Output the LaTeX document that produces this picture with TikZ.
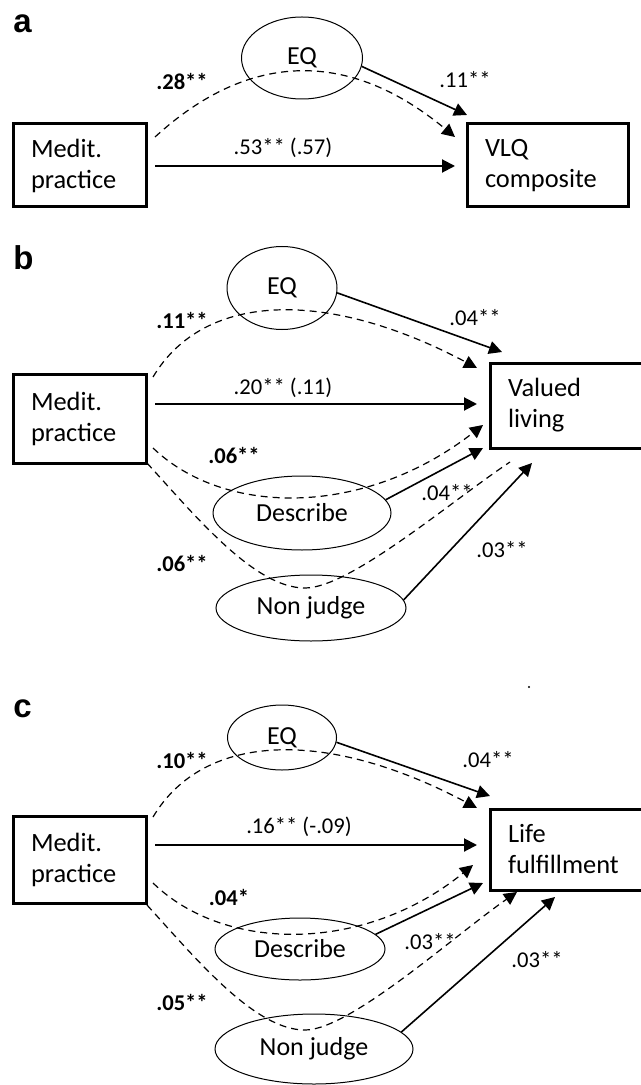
\documentclass[tikz,border=0pt]{standalone}
\usepackage{fontspec}
\setmainfont{Carlito}
\newfontfamily\panelfont{Liberation Sans}
\usetikzlibrary{shapes.geometric,arrows.meta}

\begin{document}
\begin{tikzpicture}[x=0.5pt, y=-0.5pt, >={Triangle[length=6.5pt,width=6.5pt]},
    box/.style={draw, line width=1.5pt, align=left, inner xsep=9pt, inner ysep=0pt,
        font=\fontsize{13.2}{15.5}\selectfont},
    var/.style={draw, ellipse, line width=0.5pt, inner sep=0pt,
        font=\fontsize{13}{15}\selectfont},
    coef/.style={inner sep=0pt, font=\fontsize{11.3}{13}\selectfont},
    bcoef/.style={inner sep=0pt, font=\fontsize{11.3}{13}\selectfont\bfseries},
    effect/.style={->, line width=0.8pt},
    mediated/.style={->, line width=0.6pt, dash pattern=on 3.5pt off 2.5pt},
    panel/.style={anchor=base west, inner sep=0pt, font=\panelfont\bfseries\fontsize{16.5}{19}\selectfont}]
    \useasboundingbox (0,0) rectangle (641,1085);

    % ---------------- Panel a ----------------
    \node[panel] (tagA) at (13,33) {a};
    \node[box, text width=48.5pt, minimum height=41.5pt] (medA) at (79.5,165.5) {Medit.\\practice};
    \node[box, text width=62.5pt, minimum height=41.5pt] (vlq) at (547.5,165.5) {VLQ\\composite};
    \node[var, minimum width=60.5pt, minimum height=41pt] (eqA) at (302,58) {EQ};

    % arrow ends near the outcome box
    \coordinate (sA1) at (155,137);
    \coordinate (tA1) at (455,137);
    \coordinate (sA2) at (155,166);
    \coordinate (tA2) at (455,166);
    \coordinate (tA3) at (467,115);

    \draw[mediated] (sA1) .. controls (250,50) and (350,50) .. (tA1);
    \draw[effect, line width=1pt] (sA2) -- (tA2);
    \draw[effect] (eqA.-8) -- (tA3);

    \node[bcoef] (cA1) at (182,82) {.28**};
    \node[coef] (cA2) at (465,80) {.11**};
    \node[coef] (cA3) at (283,148) {.53** (.57)};

    % ---------------- Panel b ----------------
    \node[panel] (tagB) at (13,270) {b};
    \node[box, text width=48.5pt, minimum height=44.5pt] (medB) at (79.5,418.5) {Medit.\\practice};
    \node[box, text width=62pt, minimum height=42.5pt] (val) at (570,405.5) {Valued\\living};
    \node[var, minimum width=55pt, minimum height=41.5pt] (eqB) at (282,288) {EQ};
    \node[var, minimum width=89pt, minimum height=37pt] (descB) at (302,513) {Describe};
    \node[var, minimum width=95pt, minimum height=33pt] (njB) at (311,608) {Non judge};

    \coordinate (sB1) at (153,377);
    \coordinate (tB1) at (477,368);
    \coordinate (sB2) at (155,404);
    \coordinate (tB2) at (477,404);
    \coordinate (tB3) at (502,352);
    \coordinate (sB4) at (153,448);
    \coordinate (tB4) at (483,425);
    \coordinate (tB5) at (483,448);
    \coordinate (sB6) at (147,463);
    \coordinate (tB6) at (510,462);
    \coordinate (tB7) at (532,463);

    \draw[mediated] (sB1) .. controls (205,290) and (330,290) .. (tB1);
    \draw[effect, line width=1pt] (sB2) -- (tB2);
    \draw[effect] (eqB.-5) -- (tB3);
    \draw[mediated] (sB4) .. controls (225,517) and (365,517) .. (tB4);
    \draw[effect] (descB.9) -- (tB5);
    \draw[mediated, -] (sB6) .. controls (197,518) and (255,588) .. (305,588)
        .. controls (350,588) and (450,502) .. (tB6);
    \draw[effect] (njB.5) -- (tB7);

    \node[bcoef] (cB1) at (182,320) {.11**};
    \node[coef] (cB2) at (475,318) {.04**};
    \node[coef] (cB3) at (283,388) {.20** (.11)};
    \node[bcoef] (cB4) at (234,455) {.06**};
    \node[coef] (cB5) at (447,493) {.04**};
    \node[bcoef] (cB6) at (182,563) {.06**};
    \node[coef] (cB7) at (502,550) {.03**};

    % ---------------- Panel c ----------------
    \node[panel] (tagC) at (13,717) {c};
    \node[box, text width=48.5pt, minimum height=43.5pt] (medC) at (79.5,859.5) {Medit.\\practice};
    \node[box, text width=62pt, minimum height=40.5pt] (life) at (570,849.5) {Life\\fulfillment};
    \node[var, minimum width=54.5pt, minimum height=32.5pt] (eqC) at (282,737.5) {EQ};
    \node[var, minimum width=85pt, minimum height=31pt] (descC) at (300,949) {Describe};
    \node[var, minimum width=99pt, minimum height=35pt] (njC) at (314,1049) {Non judge};

    \coordinate (sC1) at (153,817);
    \coordinate (tC1) at (477,808);
    \coordinate (sC2) at (155,845);
    \coordinate (tC2) at (477,845);
    \coordinate (tC3) at (490,796);
    \coordinate (sC4) at (153,883);
    \coordinate (tC4) at (473,865);
    \coordinate (tC5) at (483,883);
    \coordinate (sC6) at (147,905);
    \coordinate (tC6) at (517,892);
    \coordinate (tC7) at (555,897);

    \draw[mediated] (sC1) .. controls (205,730) and (330,730) .. (tC1);
    \draw[effect, line width=1pt] (sC2) -- (tC2);
    \draw[effect] (eqC.-5) -- (tC3);
    \draw[mediated] (sC4) .. controls (225,953) and (365,953) .. (tC4);
    \draw[effect] (descC.11) -- (tC5);
    \draw[mediated] (sC6) .. controls (197,960) and (255,1030) .. (305,1030)
        .. controls (350,1030) and (455,935) .. (tC6);
    \draw[effect] (njC.11) -- (tC7);

    \node[bcoef] (cC1) at (182,760) {.10**};
    \node[coef] (cC2) at (488,760) {.04**};
    \node[coef] (cC3) at (299,827) {.16** (-.09)};
    \node[bcoef] (cC4) at (229,897) {.04*};
    \node[coef] (cC5) at (430,942) {.03**};
    \node[bcoef] (cC6) at (182,1002) {.05**};
    \node[coef] (cC7) at (537,960) {.03**};

    \fill (529,687) circle (0.6pt);
\end{tikzpicture}
\end{document}
